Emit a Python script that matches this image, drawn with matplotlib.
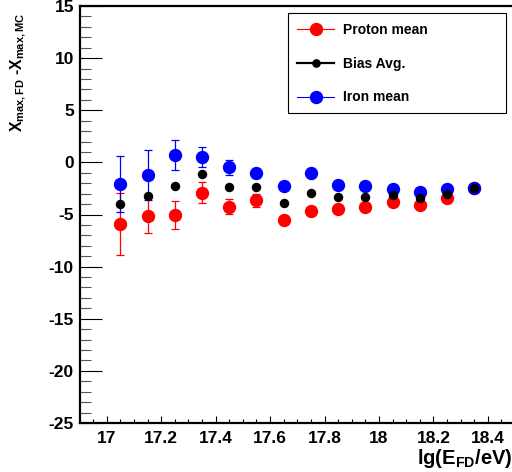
import matplotlib
matplotlib.use("Agg")
import matplotlib.pyplot as plt
from matplotlib.lines import Line2D
from matplotlib.patches import Rectangle
from matplotlib.ticker import MultipleLocator, FormatStrFormatter

plt.rcParams['font.family'] = ['Liberation Sans', 'DejaVu Sans']
plt.rcParams['font.weight'] = 'bold'
plt.rcParams['axes.unicode_minus'] = False
plt.rcParams['mathtext.fontset'] = 'custom'
plt.rcParams['mathtext.rm'] = 'Liberation Sans:bold'
plt.rcParams['mathtext.it'] = 'Liberation Sans:bold'
plt.rcParams['mathtext.bf'] = 'Liberation Sans:bold'
plt.rcParams['mathtext.default'] = 'rm'

# Energy bins (bin centres, lg(E/eV))
lg_energy = [17.05, 17.15, 17.25, 17.35, 17.45, 17.55, 17.65,
             17.75, 17.85, 17.95, 18.05, 18.15, 18.25, 18.35]

# Mean Xmax reconstruction bias per bin
proton_mean = [-5.9, -5.1, -5.05, -2.9, -4.25, -3.65, -5.55,
               -4.7, -4.45, -4.3, -3.8, -4.05, -3.45, -2.5]
proton_err = [3.0, 1.7, 1.35, 1.0, 0.7, 0.6, 0.3,
              0.3, 0.3, 0.3, 0.3, 0.3, 0.3, 0.3]

iron_mean = [-2.1, -1.2, 0.68, 0.52, -0.47, -1.05, -2.3,
             -1.05, -2.2, -2.23, -2.58, -2.81, -2.55, -2.49]
iron_err = [2.7, 2.4, 1.45, 0.96, 0.72, 0.3, 0.3,
            0.3, 0.3, 0.3, 0.3, 0.3, 0.3, 0.3]

bias_avg = [-4.0, -3.19, -2.23, -1.14, -2.39, -2.39, -3.92,
            -2.93, -3.32, -3.32, -3.16, -3.45, -3.03, -2.5]

W, H = 512, 472
fig = plt.figure(figsize=(W / 100, H / 100), dpi=100)
ax = fig.add_axes([79.5 / W, 1 - 423 / H, 435.6 / W, 417 / H])

# error bars first, markers drawn over them
ax.errorbar(lg_energy, proton_mean, yerr=proton_err, fmt='none', ecolor='red',
            elinewidth=0.9, capsize=2.9, capthick=0.9, zorder=2)
ax.errorbar(lg_energy, iron_mean, yerr=iron_err, fmt='none', ecolor='blue',
            elinewidth=0.9, capsize=2.9, capthick=0.9, zorder=2)
ax.plot(lg_energy, proton_mean, 'o', color='red', markersize=8.6, zorder=3)
ax.plot(lg_energy, iron_mean, 'o', color='blue', markersize=8.6, zorder=4)
ax.plot(lg_energy, bias_avg, 'o', color='black', markersize=5.8, zorder=5)

ax.set_xlim(16.9, 18.5)
ax.set_ylim(-25, 15)

ax.xaxis.set_major_locator(MultipleLocator(0.2))
ax.xaxis.set_minor_locator(MultipleLocator(0.05))
ax.xaxis.set_major_formatter(FormatStrFormatter('%g'))
ax.yaxis.set_major_locator(MultipleLocator(5))
ax.yaxis.set_minor_locator(MultipleLocator(1))
ax.tick_params(axis='both', which='both', direction='in', labelsize=12.5)
ax.tick_params(axis='x', which='major', length=5.0, width=0.8, pad=6)
ax.tick_params(axis='x', which='minor', length=3.0, width=0.8)
ax.tick_params(axis='y', which='major', length=16, width=0.8, pad=4)
ax.tick_params(axis='y', which='minor', length=8, width=0.8, color='#555555')
ax.tick_params(top=False, right=False, which='both')
for lbl in ax.get_xticklabels() + ax.get_yticklabels():
    lbl.set_fontweight('bold')

for side in ('left', 'bottom', 'top'):
    ax.spines[side].set_linewidth(1.6)
ax.spines['right'].set_visible(False)

fig.text(18 / W, 1 - 72 / H, r"$X_{max,FD}$ -$X_{max,MC}$", rotation=90,
         ha='center', va='center', fontsize=11.3)
fig.text(512 / W, 1 - 458 / H, r"lg($E_{FD}$/eV)", ha='right', va='center',
         fontsize=14.5)

# legend frame
fig.add_artist(Rectangle((288.3 / W, 1 - 112.7 / H), 217.7 / W, 99.4 / H,
                         transform=fig.transFigure, facecolor='white',
                         edgecolor='black', linewidth=0.8, zorder=9))

handles = [
    Line2D([], [], color='red', lw=0.8, marker='o', markersize=8.6),
    Line2D([], [], color='black', lw=1.6, marker='o', markersize=5.2),
    Line2D([], [], color='blue', lw=0.8, marker='o', markersize=8.6),
]
labels = ['Proton mean', 'Bias Avg.', 'Iron mean']
leg = fig.legend(handles, labels,
                 bbox_to_anchor=(288.3 / W, 1 - 112.7 / H, 217.7 / W, 98.1 / H),
                 loc='upper left', mode='expand', frameon=False,
                 fontsize=10, handlelength=2.7,
                 handletextpad=0.6, labelspacing=1.41, borderpad=0.62,
                 borderaxespad=0)
leg.set_zorder(10)
for t in leg.get_texts():
    t.set_fontweight('bold')

fig.savefig('out.png', dpi=100)
